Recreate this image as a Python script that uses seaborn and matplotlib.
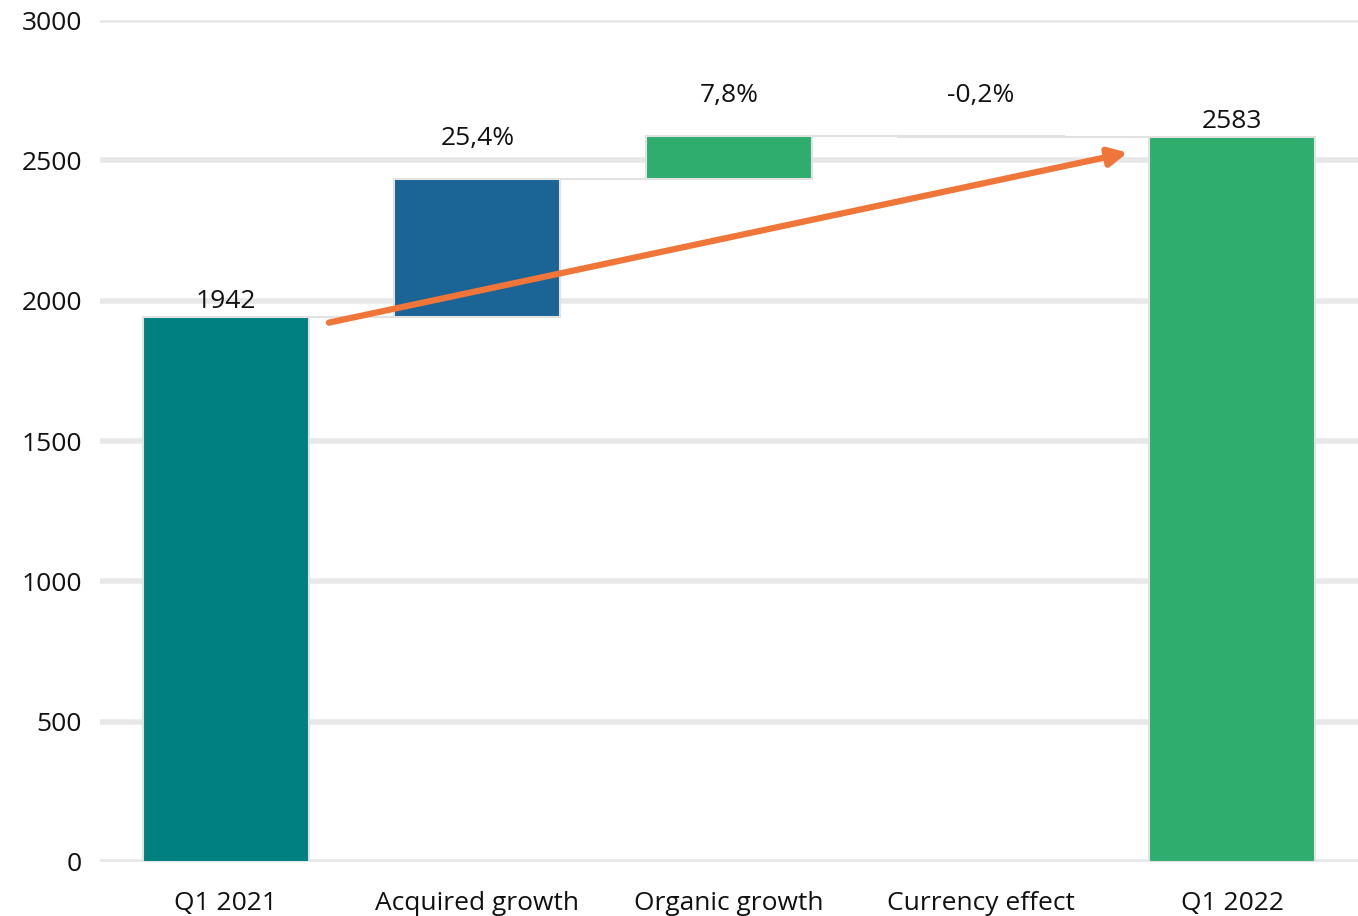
import numpy as np
import pandas as pd
import matplotlib
matplotlib.use("Agg")
import matplotlib.pyplot as plt
import seaborn as sns

# waterfall data
categories = ["Q1 2021", "Acquired growth", "Organic growth", "Currency effect", "Q1 2022"]
changes = [1942, 493, 152, -4, 2583]          # first/last are totals, middle are deltas
is_total = [True, False, False, False, True]
labels = ["1942", "25,4%", "7,8%", "-0,2%", "2583"]
colors = ["#008080", "#1A6496", "#2EAD6E", "#D9534F", "#2EAD6E"]

# cumulative bottoms / tops
bottoms, tops = [], []
level = 0
for val, tot in zip(changes, is_total):
    if tot:
        bottoms.append(0)
        tops.append(val)
        level = val
    else:
        bottoms.append(min(level, level + val))
        tops.append(max(level, level + val))
        level = level + val

df = pd.DataFrame({"category": categories, "top": tops, "bottom": bottoms})

sns.set_style("white")
plt.rcParams["font.family"] = ["Open Sans", "DejaVu Sans"]

fig = plt.figure(figsize=(13.58, 9.16), dpi=100)
ax = fig.add_axes([0.0736, 0.059, 0.9264, 0.919])

width = 0.66
sns.barplot(data=df, x="category", y="top", hue="category", palette=colors,
            legend=False, width=width, edgecolor="#e2e2e2", linewidth=1.5,
            saturation=1, ax=ax, zorder=3)

# turn full-height bars into floating waterfall pieces
for patch, b, t in zip(ax.patches, bottoms, tops):
    patch.set_y(b)
    patch.set_height(t - b)

# connectors between consecutive bars
for i in range(len(categories) - 1):
    lvl = tops[i] if (is_total[i] or changes[i] >= 0) else bottoms[i]
    ax.hlines(lvl, i + width / 2, i + 1 - width / 2, color="#e2e2e2", lw=1.5, zorder=2)

# value labels
for i, (lab, t) in enumerate(zip(labels, tops)):
    off = 2 if is_total[i] else 20
    ax.annotate(lab, (i, t), xytext=(0, off), textcoords="offset points",
                ha="center", va="bottom", fontsize=19, color="#111111")

# growth arrow from start total to end total
ax.annotate("", xy=(len(categories) - 1 - width / 2 - 0.085, tops[-1] - 55),
            xytext=(width / 2 + 0.08, tops[0] - 20),
            arrowprops=dict(arrowstyle="-|>,head_length=1.1,head_width=0.55",
                            color="#F07539", lw=4.5, shrinkA=0, shrinkB=0),
            zorder=5)

ax.set_ylim(0, 3000)
ax.set_xlim(-0.5, len(categories) - 0.5)
ax.set_yticks(np.arange(0, 3001, 500))
ax.yaxis.grid(True, color="#e8e8e8", linewidth=4)
ax.set_axisbelow(True)
ax.set_xlabel("")
ax.set_ylabel("")
ax.tick_params(axis="both", length=0, labelsize=19, colors="#111111")
ax.tick_params(axis="y", pad=13)
ax.tick_params(axis="x", pad=21)
sns.despine(ax=ax, left=True, bottom=True)

fig.savefig("out.png", dpi=100)
